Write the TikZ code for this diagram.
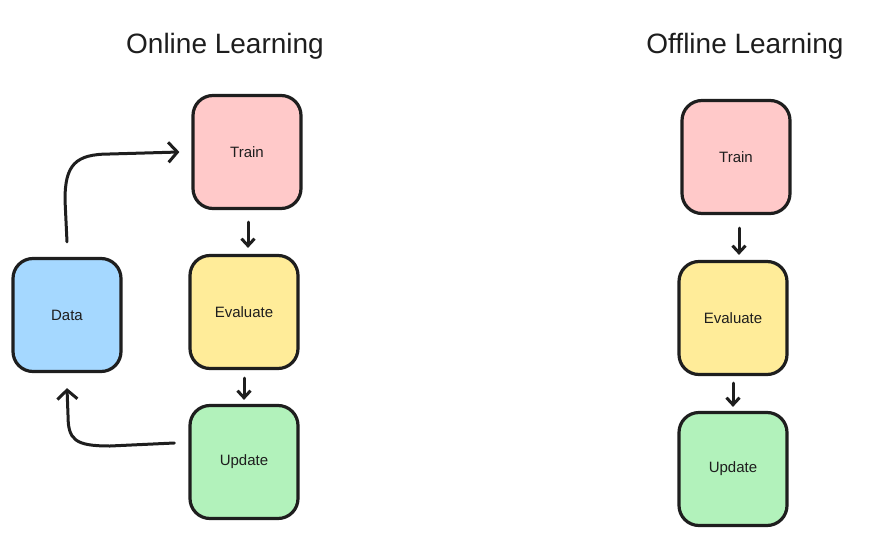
\documentclass[tikz,border=0pt]{standalone}
\usepackage{fontspec}
\setmainfont{Liberation Sans}
\usetikzlibrary{arrows.meta}
\definecolor{stroke}{HTML}{1E1E1E}
\definecolor{trainc}{HTML}{FFC9C9}
\definecolor{evalc}{HTML}{FFEC99}
\definecolor{updc}{HTML}{B2F2BB}
\definecolor{datac}{HTML}{A5D8FF}
\tikzset{
  box/.style={draw=stroke, line width=3.2pt, rounded corners=20pt, minimum width=108pt, minimum height=113pt, inner sep=0pt, font=\fontsize{15}{18}\selectfont, text=stroke},
  ttl/.style={font=\fontsize{28}{32}\selectfont, text=stroke},
  small/.style={draw=stroke, line width=3pt, line cap=round, -{Straight Barb[length=7pt,width=13pt,line width=3pt]}},
  big/.style={draw=stroke, line width=3pt, line cap=round, -{Straight Barb[length=9pt,width=20pt,line width=3pt]}}
}
\begin{document}
\begin{tikzpicture}[x=1pt,y=-1pt]
\useasboundingbox (0,0) rectangle (890,556);
\node[ttl] (t1) at (225,46) {Online Learning};
\node[ttl] (t2) at (745,46) {Offline Learning};
% left column
\node[box, fill=trainc] (lt) at (247,152) {Train};
\node[box, fill=evalc] (le) at (244,312) {Evaluate};
\node[box, fill=updc] (lu) at (244,462) {Update};
\node[box, fill=datac] (ld) at (67,315) {Data};
% right column
\node[box, fill=trainc] (rt) at (736,157) {Train};
\node[box, fill=evalc] (re) at (733,318) {Evaluate};
\node[box, fill=updc] (ru) at (733,469) {Update};
% arrows
\coordinate (a1s) at ([xshift=1pt,yshift=-12pt]lt.south);
\coordinate (a1e) at ([yshift=6pt]le.north);
\draw[small] (a1s) -- (a1s |- a1e);
\coordinate (a2s) at ([yshift=-8pt]le.south);
\coordinate (a2e) at ([yshift=4pt]lu.north);
\draw[small] (a2s) -- (a2s |- a2e);
\coordinate (a3s) at ([xshift=3pt,yshift=-13pt]rt.south);
\coordinate (a3e) at ([yshift=5pt]re.north);
\draw[small] (a3s) -- (a3s |- a3e);
\coordinate (a4s) at ([yshift=-7pt]re.south);
\coordinate (a4e) at ([yshift=4pt]ru.north);
\draw[small] (a4s) -- (a4s |- a4e);
\coordinate (d1) at ([yshift=15pt]ld.north);
\coordinate (t1e) at ([xshift=-12pt]lt.west);
\draw[big] (d1) -- (65,200) .. controls (65,165) and (75,154) .. (110,154) -- (t1e);
\coordinate (u1) at ([xshift=-14pt,yshift=19pt]lu.west);
\coordinate (d2) at ([yshift=-15pt]ld.south);
\draw[big] (u1) -- (110,446) .. controls (75,446) and (68,440) .. (68,415) -- (d2);
\end{tikzpicture}
\end{document}
